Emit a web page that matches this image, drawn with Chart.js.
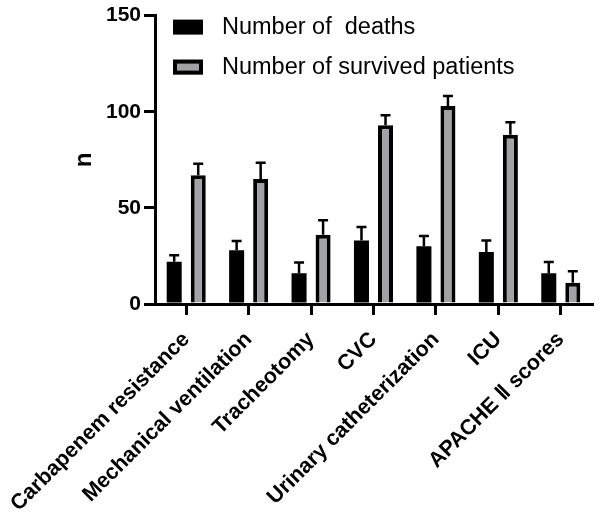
<!DOCTYPE html>
<html>
<head>
<meta charset="utf-8">
<script src="https://cdn.jsdelivr.net/npm/chart.js@4.4.1/dist/chart.umd.min.js"></script>
<style>
  body { margin: 0; background: #fff; }
  #wrap { width: 600px; height: 517px; }
</style>
</head>
<body>
<div id="wrap"><canvas id="chart" width="600" height="517"></canvas></div>
<script>
const categories = ['Carbapenem resistance', 'Mechanical ventilation', 'Tracheotomy', 'CVC',
  'Urinary catheterization', 'ICU', 'APACHE \u2161 scores'];
const deaths = [22, 28, 16, 33, 30, 27, 16];
const deathsErr = [3.4, 4.8, 5.6, 7, 5.4, 6, 5.8];
const survived = [67, 65, 36, 93, 103, 88, 11];
const survivedErr = [6, 8.5, 7.5, 5.2, 5.2, 6.5, 6];
const yTicks = [0, 50, 100, 150];

const FONT = "'Liberation Sans', Arial, sans-serif";

// upper error bars, drawn through the y scale
const errorBars = {
  id: 'errorBars',
  afterDatasetsDraw(chart) {
    const ctx = chart.ctx;
    const y = chart.scales.y;
    chart.data.datasets.forEach((ds, i) => {
      const meta = chart.getDatasetMeta(i);
      meta.data.forEach((bar, j) => {
        const top = y.getPixelForValue(ds.data[j] + ds.errors[j]);
        ctx.save();
        ctx.strokeStyle = '#000';
        ctx.lineWidth = 2.5;
        ctx.beginPath();
        ctx.moveTo(bar.x, bar.y);
        ctx.lineTo(bar.x, top);
        ctx.moveTo(bar.x - 5, top);
        ctx.lineTo(bar.x + 5, top);
        ctx.stroke();
        ctx.restore();
      });
    });
  }
};

// legend inside the plot, top left
const insideLegend = {
  id: 'insideLegend',
  afterDraw(chart) {
    const ctx = chart.ctx;
    const area = chart.chartArea;
    chart.data.datasets.forEach((ds, i) => {
      const bx = area.left + 18;
      const by = area.top + 4 + i * 40;
      ctx.save();
      ctx.fillStyle = ds.backgroundColor;
      ctx.fillRect(bx, by, 30, 15);
      if (ds.borderWidth) {
        ctx.strokeStyle = '#000';
        ctx.lineWidth = 4;
        ctx.strokeRect(bx + 2, by + 2, 26, 11);
      }
      ctx.fillStyle = '#000';
      ctx.font = '23.5px ' + FONT;
      ctx.textBaseline = 'middle';
      ctx.fillText(ds.label, bx + 49, by + 8);
      ctx.restore();
    });
  }
};

new Chart(document.getElementById('chart'), {
  type: 'bar',
  data: {
    labels: categories,
    datasets: [
      {
        label: 'Number of  deaths',
        data: deaths,
        errors: deathsErr,
        backgroundColor: '#000',
        borderWidth: 0,
        categoryPercentage: 0.77,
        barPercentage: 0.625
      },
      {
        label: 'Number of survived patients',
        data: survived,
        errors: survivedErr,
        backgroundColor: '#a2a2a6',
        borderColor: '#000',
        borderWidth: 4,
        categoryPercentage: 0.77,
        barPercentage: 0.625
      }
    ]
  },
  options: {
    responsive: false,
    animation: false,
    layout: { padding: { left: 0, top: 15, right: 8, bottom: 0 } },
    plugins: { legend: { display: false }, tooltip: { enabled: false } },
    scales: {
      x: {
        afterFit(scale) {
          scale.height = 213;
          scale.paddingLeft = 0;
          scale.paddingRight = 0;
        },
        border: { color: '#000', width: 3 },
        grid: { display: true, offset: false, drawOnChartArea: false, drawTicks: true, tickLength: 11, color: '#000', lineWidth: 3 },
        ticks: {
          autoSkip: false,
          minRotation: 45,
          maxRotation: 45,
          padding: 12,
          color: '#000',
          font: { family: FONT, size: 21.5, weight: 'bold' }
        }
      },
      y: {
        min: 0,
        max: 150,
        afterFit(scale) { scale.width = 155; },
        afterBuildTicks(scale) { scale.ticks = yTicks.map(v => ({ value: v })); },
        border: { color: '#000', width: 3 },
        grid: { display: true, drawOnChartArea: false, drawTicks: true, tickLength: 11, color: '#000', lineWidth: 3 },
        ticks: {
          padding: 3,
          color: '#000',
          font: { family: FONT, size: 21, weight: 'bold' }
        },
        title: {
          display: true,
          text: 'n',
          color: '#000',
          padding: { top: 70, bottom: 0 },
          font: { family: FONT, size: 24, weight: 'bold' }
        }
      }
    }
  },
  plugins: [errorBars, insideLegend]
});
</script>
</body>
</html>
